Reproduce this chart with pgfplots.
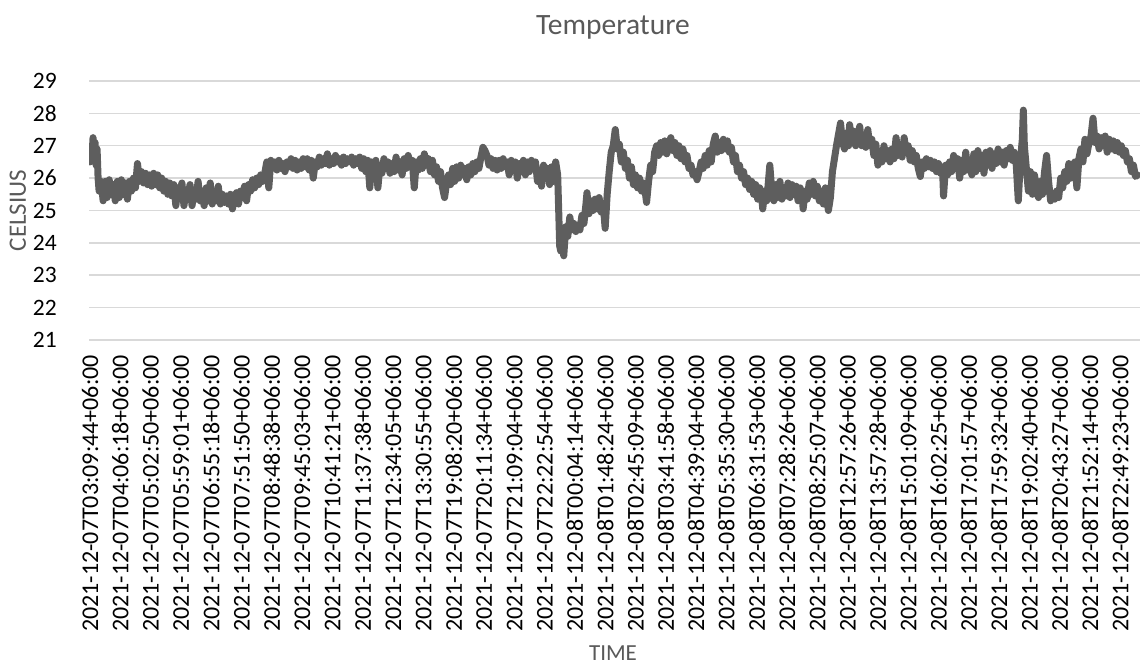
\documentclass[border=0pt]{standalone}
\usepackage{fontspec}
\setmainfont{Carlito}
\usepackage{pgfplots}
\pgfplotsset{compat=1.18}
\definecolor{linegray}{HTML}{5E5E5E}
\definecolor{gridgray}{HTML}{D9D9D9}
\definecolor{titlegray}{HTML}{595959}
\begin{document}
\begin{tikzpicture}
\useasboundingbox (0,0) rectangle (1140pt,668pt);
\begin{axis}[
  at={(89pt,328pt)}, anchor=south west,
  scale only axis, width=1051pt, height=259pt,
  xmin=-1, xmax=1039.5, ymin=21, ymax=29,
  ytick={21,22,...,29},
  xtick={0,30,...,1020},
  xticklabels={2021-12-07T03:09:44+06:00,2021-12-07T04:06:18+06:00,2021-12-07T05:02:50+06:00,2021-12-07T05:59:01+06:00,2021-12-07T06:55:18+06:00,2021-12-07T07:51:50+06:00,2021-12-07T08:48:38+06:00,2021-12-07T09:45:03+06:00,2021-12-07T10:41:21+06:00,2021-12-07T11:37:38+06:00,2021-12-07T12:34:05+06:00,2021-12-07T13:30:55+06:00,2021-12-07T19:08:20+06:00,2021-12-07T20:11:34+06:00,2021-12-07T21:09:04+06:00,2021-12-07T22:22:54+06:00,2021-12-08T00:04:14+06:00,2021-12-08T01:48:24+06:00,2021-12-08T02:45:09+06:00,2021-12-08T03:41:58+06:00,2021-12-08T04:39:04+06:00,2021-12-08T05:35:30+06:00,2021-12-08T06:31:53+06:00,2021-12-08T07:28:26+06:00,2021-12-08T08:25:07+06:00,2021-12-08T12:57:26+06:00,2021-12-08T13:57:28+06:00,2021-12-08T15:01:09+06:00,2021-12-08T16:02:25+06:00,2021-12-08T17:01:57+06:00,2021-12-08T17:59:32+06:00,2021-12-08T19:02:40+06:00,2021-12-08T20:43:27+06:00,2021-12-08T21:52:14+06:00,2021-12-08T22:49:23+06:00},
  axis line style={draw=none},
  major tick length=0pt,
  ymajorgrids, grid style={gridgray, line width=1.5pt},
  /pgf/number format/assume math mode=true,
  yticklabel style={font=\fontsize{23.5}{27}\selectfont, inner sep=0pt, xshift=-32pt},
  xticklabel style={font=\fontsize{24}{28}\selectfont, rotate=90, anchor=east, inner sep=0pt},
  xticklabel shift=15pt,
  title={Temperature},
  title style={at={(axis description cs:0.4986,1.185)}, anchor=center, font=\fontsize{29.5}{33}\selectfont, text=titlegray},
  xlabel={TIME},
  xlabel style={at={(axis description cs:0.4986,-1.2085)}, anchor=center, font=\fontsize{23}{27}\selectfont, text=titlegray},
  ylabel={CELSIUS},
  ylabel style={at={(axis description cs:-0.0676,0.5)}, anchor=center, font=\fontsize{25}{29}\selectfont, text=titlegray},
]
\addplot[linegray, line width=7pt, line join=round, line cap=round] table {
x y
0 26.5
1 27.0
2 26.6
3 27.25
4 26.8
5 27.1
6 26.4
7 26.9
8 26.0
9 25.6
11 25.9
13 25.3
15 25.9
17 25.4
19 25.95
21 25.5
23 25.8
25 25.3
27 25.9
29 25.4
31 25.95
33 25.5
35 25.85
37 25.35
39 25.9
41 25.6
43 26.0
45 25.7
47 26.45
49 25.9
51 26.2
53 25.85
55 26.15
57 25.8
59 26.1
61 25.75
63 26.15
65 25.8
67 26.1
69 25.7
71 26.0
73 25.6
75 25.9
77 25.5
79 25.85
81 25.45
83 25.8
85 25.15
87 25.7
89 25.55
91 25.85
93 25.15
95 25.6
97 25.4
99 25.8
101 25.15
103 25.6
105 25.35
107 25.9
109 25.3
111 25.5
113 25.15
115 25.7
117 25.3
119 25.85
121 25.2
123 25.6
125 25.3
127 25.75
129 25.2
131 25.5
133 25.25
135 25.45
137 25.2
139 25.5
141 25.05
143 25.4
145 25.55
147 25.2
149 25.6
151 25.4
153 25.75
155 25.3
157 25.8
159 25.6
161 25.95
163 25.7
165 26.0
167 25.8
169 26.1
171 25.9
173 26.15
175 26.5
177 25.7
179 26.55
181 26.3
183 26.5
185 26.25
187 26.55
189 26.3
191 26.45
193 26.2
195 26.5
197 26.35
199 26.6
201 26.3
203 26.55
205 26.25
207 26.5
209 26.3
211 26.6
213 26.35
215 26.6
217 26.25
219 26.55
221 26.0
223 26.5
225 26.35
227 26.65
229 26.4
231 26.6
233 26.45
235 26.75
237 26.4
239 26.6
241 26.45
243 26.7
245 26.5
247 26.6
249 26.4
251 26.65
253 26.45
255 26.6
257 26.5
259 26.65
261 26.4
263 26.6
265 26.45
267 26.65
269 26.3
271 26.6
273 26.2
275 26.55
277 25.7
279 26.5
281 26.2
283 26.55
285 25.7
287 26.4
289 26.15
291 26.6
293 26.3
295 26.5
297 26.15
299 26.45
301 26.2
303 26.65
305 26.25
307 26.5
309 26.1
311 26.6
313 26.3
315 26.7
317 26.35
319 26.55
321 25.7
323 26.5
325 26.25
327 26.6
329 26.3
331 26.75
333 26.4
335 26.6
337 26.2
339 26.55
341 26.1
343 26.35
345 25.9
347 26.2
349 25.7
351 25.4
353 25.85
355 26.1
357 25.8
359 26.3
361 25.9
363 26.35
365 26.0
367 26.4
369 26.1
371 26.3
373 25.95
375 26.35
377 26.1
379 26.45
381 26.2
383 26.5
385 26.3
387 26.65
389 26.95
391 26.85
393 26.7
395 26.4
397 26.6
399 26.3
401 26.55
403 26.25
405 26.55
407 26.3
409 26.6
411 26.35
413 26.5
415 26.1
417 26.55
419 26.25
421 26.5
423 26.0
425 26.45
427 26.2
429 26.55
431 26.1
433 26.5
435 26.2
437 26.55
439 26.3
441 26.5
443 25.9
445 26.25
447 25.75
449 26.4
451 26.0
453 26.3
455 25.8
457 26.35
459 25.9
461 26.5
463 26.1
465 23.9
466 23.75
468 24.3
469 23.6
471 24.5
473 24.2
475 24.8
477 24.4
479 24.6
481 24.35
483 24.55
485 24.4
487 24.85
489 24.6
491 25.2
492 25.55
494 24.9
496 25.3
498 25.0
500 25.35
502 25.05
504 25.4
506 24.95
508 25.2
510 24.45
512 25.5
514 26.2
516 26.8
518 27.0
520 27.5
522 26.9
524 27.05
526 26.5
528 26.8
530 26.3
532 26.55
534 26.0
536 26.35
538 25.8
540 26.1
542 25.7
544 26.0
546 25.6
548 25.85
550 25.5
551 25.25
553 25.9
555 26.4
557 26.2
559 26.8
561 27.0
563 26.7
565 27.1
567 26.8
569 27.15
571 26.75
573 27.0
575 27.25
577 26.85
579 27.1
581 26.7
583 27.0
585 26.6
587 26.9
589 26.5
591 26.7
593 26.3
595 26.4
597 26.1
599 26.2
601 25.95
603 26.2
605 26.5
607 26.3
609 26.7
611 26.4
613 26.85
615 26.5
617 27.05
619 27.3
621 26.8
623 27.1
625 26.85
627 27.2
629 26.9
631 27.15
633 26.8
635 26.95
637 26.5
639 26.7
641 26.2
643 26.4
645 26.0
647 26.2
649 25.8
651 26.0
653 25.65
655 25.9
657 25.5
659 25.8
661 25.35
663 25.7
665 25.4
666 25.05
668 25.6
670 25.3
673 26.4
675 25.6
677 25.3
679 25.8
681 25.4
683 25.9
685 25.35
687 25.7
689 25.45
691 25.85
693 25.4
695 25.8
697 25.5
699 25.75
701 25.3
703 25.7
705 25.45
706 25.05
708 25.6
710 25.35
712 25.85
714 25.5
716 25.9
718 25.45
720 25.75
722 25.3
724 25.6
726 25.2
728 25.7
731 25.0
733 25.4
735 26.2
737 26.6
739 27.0
741 27.35
743 27.7
745 27.1
747 26.9
749 27.4
751 27.0
752 27.65
754 27.2
756 27.45
758 27.0
760 27.3
762 27.6
764 27.0
766 27.3
768 26.95
770 27.5
772 27.0
774 27.2
776 26.7
778 27.05
780 26.4
782 26.8
784 26.5
786 27.0
788 26.6
790 26.85
792 26.5
794 26.9
796 26.6
798 27.25
800 26.7
802 27.0
804 26.65
806 27.25
808 26.8
810 27.0
812 26.55
814 26.85
816 26.5
818 26.7
820 26.3
822 26.05
824 26.5
826 26.3
828 26.6
830 26.35
832 26.55
834 26.3
836 26.5
838 26.2
840 26.45
842 26.15
844 26.3
845 25.45
847 26.4
849 26.1
851 26.5
853 26.2
855 26.7
857 26.3
859 26.6
861 26.0
863 26.55
865 26.2
867 26.8
869 26.25
871 26.5
873 26.1
875 26.75
877 26.2
879 26.85
881 26.3
883 26.7
885 26.15
887 26.8
889 26.4
891 26.85
893 26.3
895 26.75
897 26.45
899 26.9
901 26.5
903 26.8
905 26.4
907 26.85
909 26.6
911 26.95
913 26.55
915 26.8
917 26.4
919 25.3
921 26.5
923 27.2
924 28.1
925 27.0
927 26.3
929 25.6
931 26.2
933 25.5
935 26.1
937 25.7
939 25.4
941 25.9
943 25.5
945 26.2
947 26.7
949 25.9
951 25.3
953 25.5
955 25.35
957 25.6
959 25.4
961 26.0
963 25.7
965 26.2
967 25.9
969 26.45
971 26.0
973 26.3
975 26.5
977 25.7
979 26.6
981 26.9
983 26.5
985 27.2
987 26.75
989 27.1
991 27.3
993 27.85
995 27.1
997 27.3
999 26.9
1001 27.25
1003 27.0
1005 27.3
1007 26.8
1009 27.2
1011 26.9
1013 27.15
1015 26.85
1017 27.1
1019 26.8
1021 27.0
1023 26.7
1025 26.85
1027 26.5
1029 26.6
1031 26.2
1033 26.4
1035 26.05
1037 26.1
};
\end{axis}
\end{tikzpicture}
\end{document}
